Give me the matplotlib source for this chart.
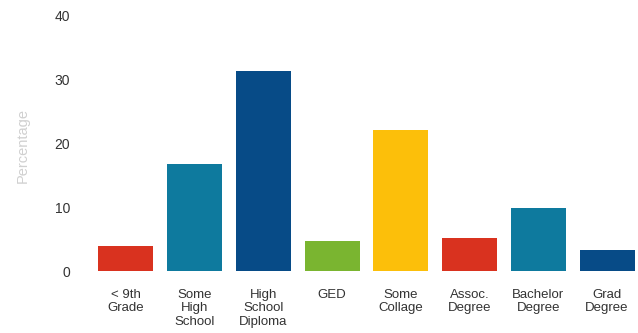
import matplotlib
matplotlib.use("Agg")
import matplotlib.pyplot as plt

plt.rcParams["font.family"] = ["Liberation Sans", "DejaVu Sans"]

# education levels and share of respondents (%)
categories = ["< 9th\nGrade", "Some\nHigh\nSchool", "High\nSchool\nDiploma", "GED",
              "Some\nCollage", "Assoc.\nDegree", "Bachelor\nDegree", "Grad\nDegree"]
percentages = [4.0, 16.8, 31.4, 4.7, 22.1, 5.2, 9.9, 3.3]
colors = ["#d9321f", "#0e7a9e", "#074b87", "#7ab530",
          "#fcbf0a", "#d9321f", "#0e7a9e", "#074b87"]

fig = plt.figure(figsize=(6.38, 3.33), dpi=100)
ax = fig.add_axes([91.5 / 638, 0.186, 550 / 638, 0.766])

x = range(len(categories))
ax.bar(x, percentages, width=0.8, color=colors)

ax.set_xlim(-0.5, 7.5)
ax.set_ylim(0, 40)
ax.set_yticks([0, 10, 20, 30, 40])
ax.set_xticks(list(x))
ax.set_xticklabels(categories, fontsize=9.5, color="#333333", linespacing=1.15)
ax.tick_params(axis="y", labelsize=10, labelcolor="#333333", length=0, pad=15.5)
ax.tick_params(axis="x", length=0, pad=13)
for s in ax.spines.values():
    s.set_visible(False)

fig.text(23 / 638, 1 - 145 / 333, "Percentage", rotation=90, fontsize=10.5,
         color="#d0d0d0", ha="center", va="center")

fig.savefig("out.png", dpi=100)
